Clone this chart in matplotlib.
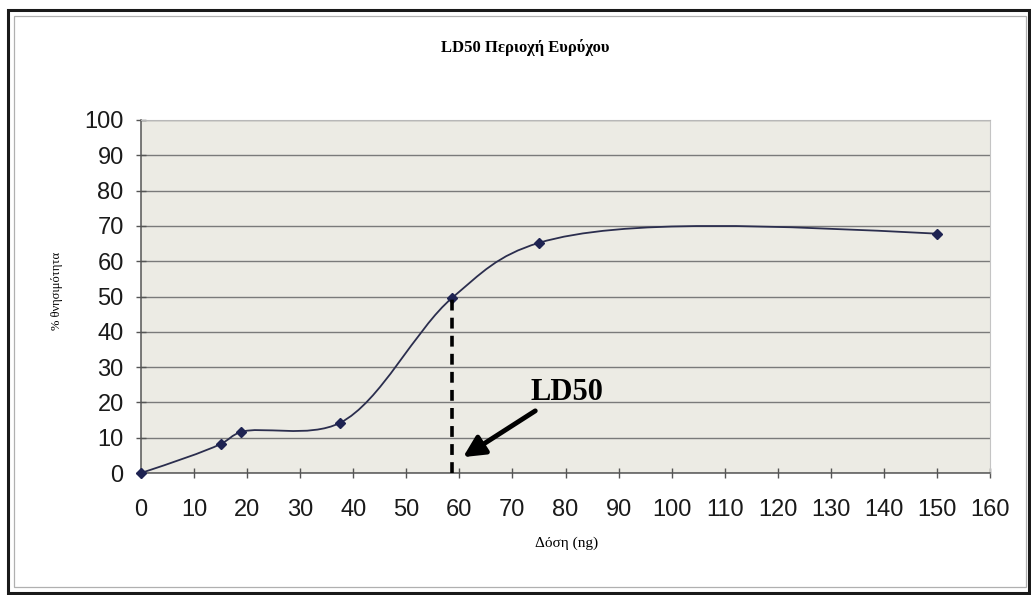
import numpy as np
import matplotlib
matplotlib.use("Agg")
import matplotlib.pyplot as plt
from matplotlib.path import Path
from matplotlib.patches import PathPatch, Rectangle

# data
dose = [0, 15, 18.8, 37.5, 58.7, 75, 150]
mortality = [0, 8.2, 11.6, 14.2, 49.7, 65.2, 67.8]
ld50_dose = 58.7
ld50_pct = 50
xticks = list(range(0, 161, 10))
yticks = list(range(0, 101, 10))

title = "LD50 Περιοχή Ευρύχου"
xlabel = "Δόση (ng)"
ylabel = "% θνησιμότητα"

line_col = "#2b2e4e"
marker_col = "#1e2352"
bg_col = "#ecebe4"
grid_col = "#7a7a7a"


def smooth_path(ax, xs, ys):
    # centripetal catmull-rom turned into bezier handles, done in display space
    pts = ax.transData.transform(np.column_stack([xs, ys]))
    n = len(pts)
    tang = [None] * n
    for i in range(1, n - 1):
        p0, p1, p2 = pts[i - 1], pts[i], pts[i + 1]
        d0 = np.sqrt(np.linalg.norm(p1 - p0))
        d1 = np.sqrt(np.linalg.norm(p2 - p1))
        tang[i] = (p1 - p0) / d0 - (p2 - p0) / (d0 + d1) + (p2 - p1) / d1
    verts = [pts[0]]
    codes = [Path.MOVETO]
    for i in range(n - 1):
        p1, p2 = pts[i], pts[i + 1]
        d = np.sqrt(np.linalg.norm(p2 - p1))
        c1 = p1 + tang[i] * d / 3 if tang[i] is not None else None
        c2 = p2 - tang[i + 1] * d / 3 if tang[i + 1] is not None else None
        if c1 is None:
            c1 = (p1 + c2) / 2
        if c2 is None:
            c2 = (p2 + c1) / 2
        verts += [c1, c2, p2]
        codes += [Path.CURVE4] * 3
    verts = ax.transData.inverted().transform(np.array(verts))
    return Path(verts, codes)


fig = plt.figure(figsize=(10.31, 5.95), dpi=100)
fig.patch.set_facecolor("white")

# frame round the chart
fig.patches.append(Rectangle((8 / 1031, 2 / 595), 1021 / 1031, 583 / 595,
                             transform=fig.transFigure, fill=False,
                             edgecolor="#1a1a1a", lw=2.2))
fig.patches.append(Rectangle((14 / 1031, 8 / 595), 1012 / 1031, 571 / 595,
                             transform=fig.transFigure, fill=False,
                             edgecolor="#b0b0b0", lw=0.9))

ax = fig.add_axes([141 / 1031, 1 - 473 / 595, 849 / 1031, 353 / 595])
ax.set_facecolor(bg_col)
ax.set_xlim(0, 160)
ax.set_ylim(0, 100)
ax.set_xticks(xticks)
ax.set_yticks(yticks)
ax.tick_params(direction="inout", length=7, width=1, color="#555555",
               labelsize=17, labelcolor="#1a1a1a", labelfontfamily="Liberation Sans")
ax.tick_params(axis="x", pad=15)
ax.tick_params(axis="y", pad=9)
ax.yaxis.grid(True, color=grid_col, lw=1)
ax.set_axisbelow(True)
for s in ["left", "bottom"]:
    ax.spines[s].set_color("#555555")
    ax.spines[s].set_linewidth(1.1)
ax.spines["top"].set_color("#b8b8b8")
ax.spines["right"].set_color("#c4c4c4")

ax.add_patch(PathPatch(smooth_path(ax, dose, mortality), fill=False,
                       edgecolor=line_col, lw=1.3, zorder=3))
ax.plot(dose, mortality, linestyle="none", marker="D", markersize=5,
        color=marker_col, zorder=4, clip_on=False)

ax.plot([ld50_dose, ld50_dose], [0, ld50_pct], color="black", lw=2.6,
        linestyle=(0, (3, 2)), zorder=5, clip_on=False)

ax.annotate("", xy=(60.7, 4.5), xytext=(74.3, 17.6),
            arrowprops=dict(arrowstyle="-|>", lw=3.5, color="black",
                            mutation_scale=32, shrinkA=0, shrinkB=0),
            zorder=6)
ax.text(80.2, 22.8, "LD50", fontsize=22, fontweight="bold",
        family="Liberation Serif", ha="center", va="center", zorder=6)

fig.text(525 / 1031, 1 - 48 / 595, title, ha="center", va="center",
         fontsize=12, fontweight="bold", family="Liberation Serif")
fig.text(567 / 1031, 1 - 543 / 595, xlabel, ha="center", va="center",
         fontsize=11, family="Liberation Serif")
fig.text(57 / 1031, 1 - 291 / 595, ylabel, ha="center", va="center",
         rotation=90, fontsize=9, family="Liberation Serif")

fig.savefig("out.png", dpi=100)
